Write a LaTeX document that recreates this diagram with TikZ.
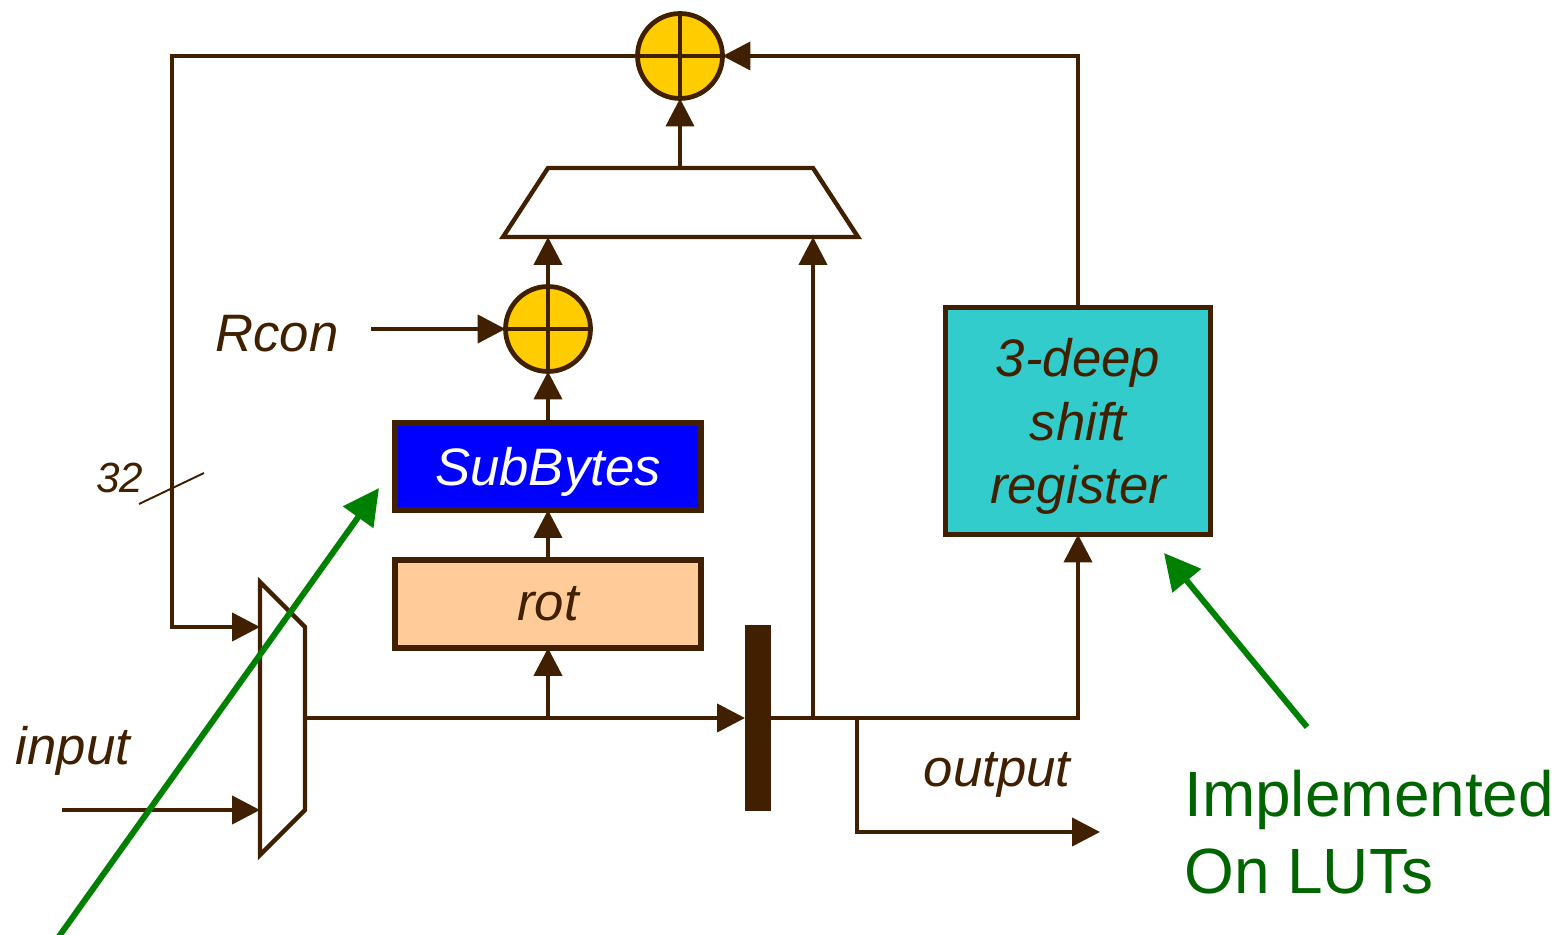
\documentclass[tikz,border=0pt]{standalone}
\usepackage{fontspec}
\setsansfont{Liberation Sans}
\usetikzlibrary{arrows.meta}

\definecolor{wirebrown}{RGB}{64,32,0}
\definecolor{xoryellow}{RGB}{255,204,0}
\definecolor{sbblue}{RGB}{0,0,255}
\definecolor{rotpeach}{RGB}{255,204,153}
\definecolor{regteal}{RGB}{51,204,204}
\definecolor{lutgreen}{RGB}{0,128,0}
\definecolor{lutdark}{RGB}{0,100,0}

\begin{document}
\begin{tikzpicture}[x=0.02cm, y=-0.02cm, >={Triangle[length=0.56cm,width=0.56cm]},
  wire/.style={draw=wirebrown, line width=2.5pt},
  xorc/.style={circle, draw=wirebrown, fill=xoryellow, line width=2.7pt, minimum size=1.7cm, inner sep=0pt, outer sep=0pt},
  blk/.style={draw=wirebrown, line width=2.9pt, inner sep=0pt, outer sep=0pt},
  lbl/.style={text=wirebrown, font=\sffamily\itshape\fontsize{30}{36.3}\selectfont},
  lutarrow/.style={draw=lutgreen, line width=3.4pt, -{Triangle[length=0.72cm,width=0.72cm]}}]
  \useasboundingbox (0,0) rectangle (1567,935);

  % XOR gates
  \node[xorc] (xtop) at (680,56) {};
  \draw[wire] (xtop.north) -- (xtop.south) (xtop.west) -- (xtop.east);
  \node[xorc] (xrcon) at (548,329) {};
  \draw[wire] (xrcon.north) -- (xrcon.south) (xrcon.west) -- (xrcon.east);

  % Output mux (top)
  \coordinate (mux-top) at (680,168);
  \coordinate (mux-in1) at (548,237);
  \coordinate (mux-in2) at (813,237);
  \draw[wire, fill=white, line join=miter] (503,237) -- (548,168) -- (813,168) -- (858,237) -- cycle;

  % Input mux (left)
  \coordinate (lm-in1) at (260,627);
  \coordinate (lm-in2) at (260,810);
  \coordinate (lm-out) at (305,718);
  \draw[wire, fill=white, line join=miter] (260,582) -- (305,627) -- (305,810) -- (260,855) -- cycle;

  % Blocks
  \node[blk, lbl, fill=sbblue, text=white, text depth=0pt, minimum width=6.12cm, minimum height=1.74cm] (sub) at (548,466.5) {SubBytes};
  \node[blk, lbl, fill=rotpeach, minimum width=6.12cm, minimum height=1.76cm] (rot) at (548,604) {rot};
  \node[blk, lbl, fill=regteal, text depth=0pt, minimum width=5.3cm, minimum height=4.54cm, align=center] (shreg) at (1078,421) {3-deep\\shift\\register};
  \node[fill=wirebrown, minimum width=0.52cm, minimum height=3.74cm, inner sep=0pt, outer sep=0pt] (pipe) at (758,718) {};

  % Labels
  \node[lbl] (rcon) at (277,334) {Rcon};
  \node[lbl] (inlbl) at (73,751) {input};
  \node[lbl] (outlbl) at (997,775) {output};
  \node[text=wirebrown, font=\sffamily\itshape\fontsize{24}{28}\selectfont] (w32) at (120,478) {32};
  \draw[draw=wirebrown, line width=1.1pt] (139,504) -- (204,473);

  % Datapath
  \coordinate (fb) at (172,56);
  \coordinate (rcon-in) at (371,329);
  \coordinate (in-src) at (62,810);
  \coordinate (tap) at (857,718);
  \coordinate (outp) at (1100,832);
  \draw[wire, ->] (xtop.west) -- (fb) |- (lm-in1);
  \draw[wire, ->] (in-src) -- (lm-in2);
  \draw[wire, ->] (lm-out) -- (pipe.west);
  \draw[wire, ->] (rot.south |- lm-out) -- (rot.south);
  \draw[wire, ->] (rot.north) -- (sub.south);
  \draw[wire, ->] (sub.north) -- (xrcon.south);
  \draw[wire, ->] (rcon-in) -- (xrcon.west);
  \draw[wire, ->] (xrcon.north) -- (mux-in1);
  \draw[wire, ->] (mux-top) -- (xtop.south);
  \draw[wire, ->] (pipe.east) -| (shreg.south);
  \draw[wire, ->] (mux-in2 |- pipe.east) -- (mux-in2);
  \draw[wire, ->] (tap) |- (outp);
  \draw[wire, ->] (shreg.north) |- (xtop.east);

  % LUT callout
  \coordinate (g1-start) at (55,942);
  \coordinate (g1-tip) at (379,488);
  \coordinate (g2-start) at (1307,727);
  \coordinate (g2-tip) at (1164,553);
  \draw[lutarrow] (g1-start) -- (g1-tip);
  \draw[lutarrow] (g2-start) -- (g2-tip);
  \node[anchor=north west, inner sep=0pt, align=left, text=lutdark, font=\sffamily\fontsize{36.4}{43.5}\selectfont] (lut) at (1184,770) {Implemented\\On LUTs};
\end{tikzpicture}
\end{document}
